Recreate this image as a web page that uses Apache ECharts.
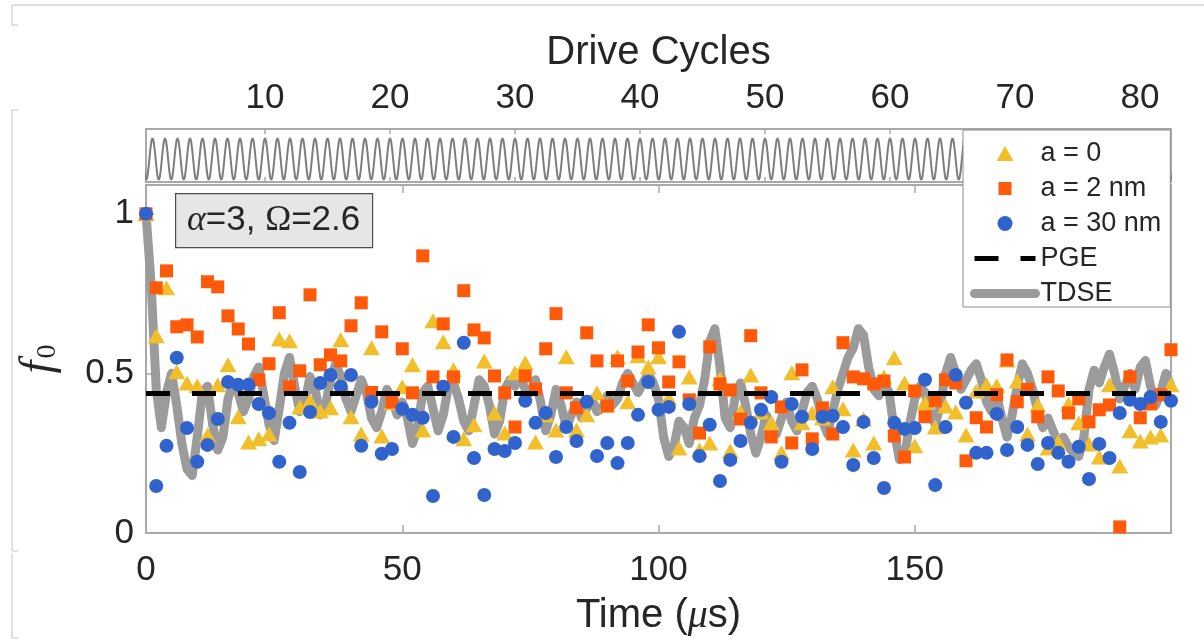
<!DOCTYPE html>
<html>
<head>
<meta charset="utf-8">
<script src="https://cdn.jsdelivr.net/npm/echarts@6/dist/echarts.min.js"></script>
<style>
  html, body { margin: 0; padding: 0; background: #ffffff; }
  #chart { width: 1204px; height: 643px; }
</style>
</head>
<body>
<div id="chart"></div>
<script>
// ---- data ---------------------------------------------------------------
// Marker series are sampled every 2 µs from t = 0 to t = 200 µs.
const sampleStep = 2;
const fA0 = [1.0, 0.618, 0.768, 0.505, 0.470, 0.461, 0.307, 0.464, 0.527, 0.364,
  0.285, 0.295, 0.310, 0.608, 0.602, 0.395, 0.414, 0.382, 0.392, 0.605,
  0.364, 0.310, 0.580, 0.304, 0.408, 0.458, 0.527, 0.323, 0.665, 0.599,
  0.511, 0.295, 0.339, 0.539, 0.376, 0.313, 0.502, 0.533, 0.285, 0.370,
  0.323, 0.552, 0.323, 0.370, 0.439, 0.401, 0.552, 0.411, 0.555, 0.520,
  0.552, 0.423, 0.266, 0.489, 0.260, 0.282, 0.483, 0.257, 0.379, 0.495,
  0.379, 0.345, 0.251, 0.502, 0.345, 0.376, 0.361, 0.458, 0.389, 0.260,
  0.357, 0.282, 0.489, 0.549, 0.470, 0.273, 0.408, 0.332, 0.398, 0.379,
  0.307, 0.445, 0.464, 0.461, 0.542, 0.476, 0.310, 0.401, 0.266, 0.285,
  0.404, 0.345, 0.279, 0.238, 0.464, 0.210, 0.320, 0.288, 0.301, 0.307,
  0.464];
const fA2 = [1.0, 0.768, 0.821, 0.646, 0.652, 0.614, 0.787, 0.771, 0.680, 0.639,
  0.592, 0.480, 0.530, 0.690, 0.458, 0.508, 0.746, 0.527, 0.558, 0.539,
  0.649, 0.721, 0.440, 0.630, 0.410, 0.577, 0.439, 0.868, 0.489, 0.655,
  0.489, 0.759, 0.636, 0.611, 0.492, 0.439, 0.332, 0.492, 0.451, 0.577,
  0.687, 0.439, 0.392, 0.627, 0.539, 0.398, 0.539, 0.476, 0.567, 0.652,
  0.580, 0.473, 0.536, 0.417, 0.313, 0.583, 0.467, 0.448, 0.357, 0.618,
  0.439, 0.301, 0.395, 0.282, 0.511, 0.295, 0.392, 0.310, 0.596, 0.489,
  0.483, 0.467, 0.476, 0.304, 0.238, 0.445, 0.364, 0.414, 0.480, 0.470,
  0.226, 0.361, 0.332, 0.433, 0.542, 0.411, 0.450, 0.364, 0.489, 0.445,
  0.376, 0.420, 0.348, 0.386, 0.401, 0.019, 0.489, 0.361, 0.404, 0.433,
  0.574];
const fA30 = [1.0, 0.147, 0.273, 0.549, 0.329, 0.223, 0.276, 0.357, 0.473, 0.464,
  0.464, 0.404, 0.376, 0.223, 0.345, 0.191, 0.379, 0.470, 0.495, 0.458,
  0.495, 0.273, 0.411, 0.248, 0.263, 0.389, 0.370, 0.361, 0.116, 0.458,
  0.301, 0.596, 0.235, 0.119, 0.263, 0.257, 0.282, 0.414, 0.345, 0.376,
  0.238, 0.332, 0.288, 0.411, 0.241, 0.282, 0.219, 0.282, 0.370, 0.473,
  0.386, 0.395, 0.630, 0.404, 0.241, 0.339, 0.163, 0.229, 0.288, 0.345,
  0.386, 0.426, 0.223, 0.404, 0.364, 0.263, 0.364, 0.367, 0.332, 0.213,
  0.348, 0.235, 0.141, 0.345, 0.326, 0.329, 0.480, 0.150, 0.332, 0.495,
  0.408, 0.251, 0.251, 0.373, 0.260, 0.332, 0.276, 0.216, 0.282, 0.251,
  0.223, 0.270, 0.169, 0.279, 0.235, 0.376, 0.417, 0.404, 0.426, 0.348,
  0.414];

// TDSE curve, one value per µs from t = 0 to t = 200 µs.
const tdseStep = 1;
const fTDSE = [1.00, 0.78, 0.45, 0.33, 0.44, 0.50, 0.40, 0.28, 0.20, 0.18,
  0.30, 0.44, 0.46, 0.34, 0.26, 0.30, 0.42, 0.47, 0.44, 0.38,
  0.42, 0.49, 0.52, 0.43, 0.34, 0.29, 0.39, 0.50, 0.55, 0.46,
  0.38, 0.41, 0.49, 0.45, 0.37, 0.40, 0.48, 0.53, 0.49, 0.42,
  0.38, 0.43, 0.48, 0.44, 0.36, 0.33, 0.38, 0.45, 0.42, 0.37,
  0.41, 0.36, 0.28, 0.33, 0.44, 0.46, 0.39, 0.32, 0.37, 0.46,
  0.47, 0.42, 0.35, 0.32, 0.40, 0.48, 0.46, 0.40, 0.31, 0.35,
  0.45, 0.48, 0.46, 0.49, 0.45, 0.44, 0.48, 0.41, 0.32, 0.37,
  0.45, 0.40, 0.33, 0.37, 0.41, 0.36, 0.39, 0.42, 0.38, 0.39,
  0.43, 0.40, 0.42, 0.47, 0.50, 0.47, 0.44, 0.47, 0.50, 0.47,
  0.42, 0.30, 0.24, 0.27, 0.35, 0.33, 0.28, 0.36, 0.40, 0.48,
  0.60, 0.64, 0.52, 0.36, 0.33, 0.43, 0.47, 0.40, 0.31, 0.25,
  0.30, 0.37, 0.34, 0.31, 0.36, 0.41, 0.35, 0.32, 0.38, 0.44,
  0.46, 0.42, 0.35, 0.31, 0.38, 0.45, 0.50, 0.55, 0.58, 0.64,
  0.62, 0.52, 0.45, 0.43, 0.47, 0.44, 0.32, 0.23, 0.24, 0.34,
  0.42, 0.46, 0.44, 0.38, 0.34, 0.40, 0.50, 0.55, 0.50, 0.45,
  0.48, 0.51, 0.53, 0.48, 0.41, 0.38, 0.43, 0.36, 0.30, 0.37,
  0.46, 0.53, 0.50, 0.45, 0.38, 0.33, 0.36, 0.32, 0.28, 0.30,
  0.27, 0.25, 0.24, 0.30, 0.45, 0.51, 0.47, 0.52, 0.56, 0.50,
  0.42, 0.46, 0.50, 0.45, 0.52, 0.54, 0.46, 0.40, 0.44, 0.50,
  0.46];

const pgeLevel = 0.437;
const timeRange = [0, 200];
const timeTicks = [0, 50, 100, 150];
const fTicks = [0, 0.5, 1];
const cycleRange = [0.48, 82.48];
const cycleTicks = [10, 20, 30, 40, 50, 60, 70, 80];
// one period of the drive waveform, peak at whole cycles
const driveShape = [1, 0.87, 0.5, 0, -0.5, -0.87, -1, -0.87, -0.5, 0, 0.5, 0.87];
const driveCycleCount = 83;

// ---- build series data --------------------------------------------------
const pairs = (vals, step) => vals.map((v, i) => [i * step, v]);
const driveData = [];
for (let c = 0; c < driveCycleCount; c++) {
  for (let k = 0; k < driveShape.length; k++) {
    driveData.push([c + k / driveShape.length, driveShape[k]]);
  }
}
driveData.push([driveCycleCount, driveShape[0]]);

const FONT = '"Liberation Sans", Arial, Helvetica, sans-serif';
const SERIF = '"Liberation Serif", "DejaVu Serif", serif';
const TXT = '#262626';
const AX = '#a9a9a9';
const NONE = 'rgba(0,0,0,0)';

// legend glyphs: the moveTo points pad the box so the shapes keep their size
const triangleIcon = 'path://M0,15L8.5,0L17,15Z';
const squareIcon = 'path://M0,0M1,1H14V14H1ZM15,15';

const frameAxis = (extra) => Object.assign({
  type: 'value',
  axisLine: { show: true, onZero: false, lineStyle: { color: AX, width: 2 } },
  axisTick: { show: false },
  axisLabel: { show: false },
  splitLine: { show: false }
}, extra);

const chart = echarts.init(document.getElementById('chart'), null, { renderer: 'canvas' });

const option = {
  animation: false,
  backgroundColor: '#ffffff',
  grid: [
    { left: 146, right: 33, top: 185, bottom: 110 },
    { left: 146, right: 33, top: 129, height: 53 }
  ],
  xAxis: [
    frameAxis({
      gridIndex: 0, position: 'bottom', min: timeRange[0], max: timeRange[1],
      axisTick: { show: true, inside: true, length: 8, customValues: timeTicks,
        lineStyle: { color: AX, width: 1.5 } },
      axisLabel: { show: true, customValues: timeTicks, margin: 20, color: TXT,
        fontSize: 35, fontFamily: FONT },
      name: '{n|Time (}{m|\u03bc}{n|s)}',
      nameLocation: 'middle', nameGap: 63,
      nameTextStyle: { rich: {
        n: { fontSize: 40, fontFamily: FONT, color: TXT },
        m: { fontSize: 40, fontFamily: SERIF, fontStyle: 'italic', color: TXT }
      } }
    }),
    frameAxis({
      gridIndex: 0, position: 'top', min: timeRange[0], max: timeRange[1],
      axisTick: { show: true, inside: true, length: 8, customValues: timeTicks,
        lineStyle: { color: AX, width: 1.5 } }
    }),
    frameAxis({
      gridIndex: 1, position: 'top', min: cycleRange[0], max: cycleRange[1],
      axisTick: { show: true, inside: true, length: 5, customValues: cycleTicks,
        lineStyle: { color: AX, width: 1.5 } },
      axisLabel: { show: true, customValues: cycleTicks, margin: 13, color: TXT,
        fontSize: 35, fontFamily: FONT },
      name: 'Drive Cycles', nameLocation: 'middle', nameGap: 56,
      nameTextStyle: { fontSize: 40, fontFamily: FONT, color: TXT }
    }),
    frameAxis({
      gridIndex: 1, position: 'bottom', min: cycleRange[0], max: cycleRange[1],
      axisTick: { show: true, inside: true, length: 5, customValues: cycleTicks,
        lineStyle: { color: AX, width: 1.5 } }
    })
  ],
  yAxis: [
    frameAxis({
      gridIndex: 0, position: 'left', min: 0, max: 1.09,
      axisTick: { show: true, inside: true, length: 8, customValues: fTicks,
        lineStyle: { color: AX, width: 1.5 } },
      axisLabel: { show: true, customValues: fTicks, margin: 12, color: TXT,
        fontSize: 35, fontFamily: FONT },
      name: '{f|f}{s|0}', nameLocation: 'middle', nameRotate: 90, nameGap: 84,
      nameTextStyle: { rich: {
        f: { fontSize: 46, fontFamily: SERIF, fontStyle: 'italic', color: TXT },
        s: { fontSize: 28, fontFamily: SERIF, color: TXT, verticalAlign: 'bottom', padding: [14, 0, 0, 2] }
      } }
    }),
    frameAxis({
      gridIndex: 0, position: 'right', min: 0, max: 1.09,
      axisTick: { show: true, inside: true, length: 8, customValues: fTicks,
        lineStyle: { color: AX, width: 1.5 } }
    }),
    frameAxis({ gridIndex: 1, position: 'left', min: -1.095, max: 1.43 }),
    frameAxis({ gridIndex: 1, position: 'right', min: -1.095, max: 1.43 })
  ],
  legend: {
    data: [
      { name: 'a = 0', icon: triangleIcon },
      { name: 'a = 2 nm', icon: squareIcon },
      { name: 'a = 30 nm', icon: 'circle' },
      { name: 'PGE' },
      { name: 'TDSE' }
    ],
    orient: 'vertical', left: 963, top: 130,
    padding: [10, 9, 0, 7],
    itemWidth: 61, itemHeight: 15, itemGap: 8,
    symbolKeepAspect: true,
    backgroundColor: '#ffffff', borderColor: '#8c8c8c', borderWidth: 1, borderRadius: 0,
    selectedMode: false,
    textStyle: { fontSize: 27, lineHeight: 24, color: TXT, fontFamily: FONT },
    lineStyle: { width: 'inherit' },
    z: 20
  },
  series: [
    {
      name: 'drive', type: 'line', xAxisIndex: 2, yAxisIndex: 2,
      data: driveData, symbol: 'none', silent: true,
      lineStyle: { color: '#7d7d7d', width: 2 }, z: 2
    },
    {
      name: 'TDSE', type: 'line', xAxisIndex: 0, yAxisIndex: 0,
      data: pairs(fTDSE, tdseStep), symbol: 'none',
      lineStyle: { color: '#9b9b9b', width: 9, join: 'round', cap: 'round' },
      itemStyle: { color: NONE }, z: 2
    },
    {
      name: 'a = 0', type: 'scatter', xAxisIndex: 0, yAxisIndex: 0,
      data: pairs(fA0, sampleStep), symbol: 'triangle', symbolSize: [17, 15],
      itemStyle: { color: '#f2bf2c', opacity: 1 }, z: 3
    },
    {
      name: 'a = 2 nm', type: 'scatter', xAxisIndex: 0, yAxisIndex: 0,
      data: pairs(fA2, sampleStep), symbol: 'rect', symbolSize: 13,
      itemStyle: { color: '#ff5a0a', opacity: 1 }, z: 3
    },
    {
      name: 'a = 30 nm', type: 'scatter', xAxisIndex: 0, yAxisIndex: 0,
      data: pairs(fA30, sampleStep), symbol: 'circle', symbolSize: 14,
      itemStyle: { color: '#3163cc', opacity: 1 }, z: 3
    },
    {
      name: 'PGE', type: 'line', xAxisIndex: 0, yAxisIndex: 0,
      data: [[timeRange[0], pgeLevel], [timeRange[1], pgeLevel]], symbol: 'none',
      lineStyle: { color: '#000000', width: 5, type: [24, 22] },
      itemStyle: { color: NONE }, z: 4
    }
  ],
  graphic: [
    {
      type: 'group', left: 175, top: 193, z: 10,
      children: [
        { type: 'rect', shape: { x: 0, y: 0, width: 197, height: 54 },
          style: { fill: '#e6e6e6', stroke: '#4d4d4d', lineWidth: 1.2 } },
        { type: 'text', x: 98, y: 27,
          style: {
            text: '{a|\u03b1}{n|=3, }{o|\u03a9}{n|=2.6}',
            align: 'center', verticalAlign: 'middle',
            rich: {
              a: { fontSize: 36, fontFamily: SERIF, fontStyle: 'italic', fill: TXT },
              o: { fontSize: 35, fontFamily: SERIF, fill: TXT },
              n: { fontSize: 35, fontFamily: FONT, fill: TXT }
            }
          } }
      ]
    },
    // thin page frame lines around the figure
    { type: 'polyline', z: 1, silent: true,
      shape: { points: [[1204, 5], [12, 5], [12, 25], [18, 25]] },
      style: { stroke: '#c4c4c4', lineWidth: 1, fill: null } },
    { type: 'polyline', z: 1, silent: true,
      shape: { points: [[18, 110], [12, 110], [12, 551], [18, 551]] },
      style: { stroke: '#c4c4c4', lineWidth: 1, fill: null } },
    { type: 'polyline', z: 1, silent: true,
      shape: { points: [[12, 553], [12, 638], [18, 638]] },
      style: { stroke: '#c4c4c4', lineWidth: 1, fill: null } }
  ]
};

chart.setOption(option);
</script>
</body>
</html>
